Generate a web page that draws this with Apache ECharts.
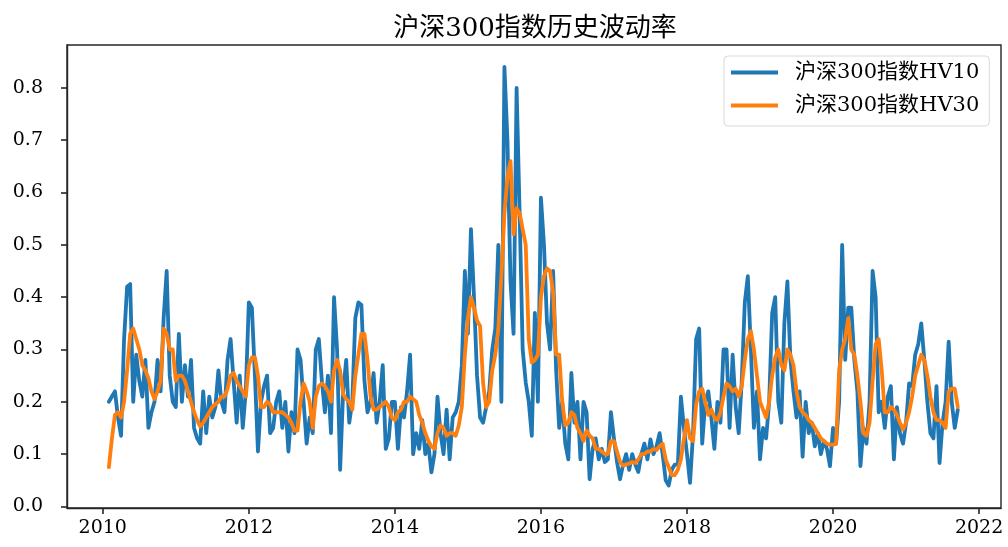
<!DOCTYPE html>
<html>
<head>
<meta charset="utf-8">
<script src="https://cdn.jsdelivr.net/npm/echarts@6/dist/echarts.min.js"></script>
<style>
html,body{margin:0;padding:0;background:#fff;}
#chart{width:1008px;height:547px;}
</style>
</head>
<body>
<div id="chart"></div>
<script>
// Time grid: half-month steps starting Feb 2010 (decimal years)
const START_YEAR = 2010 + 2 / 24;
const STEP = 1 / 24;

const seriesNames = ['沪深300指数HV10', '沪深300指数HV30'];
const xTickLabels = [2010, 2012, 2014, 2016, 2018, 2020, 2022];
const yTickLabels = [0.0, 0.1, 0.2, 0.3, 0.4, 0.5, 0.6, 0.7, 0.8];

const hv10 = [
  // 2010 (from Feb)
  0.2, 0.21, 0.22, 0.17, 0.135, 0.32, 0.42, 0.425, 0.2, 0.29, 0.24, 0.21, 0.28, 0.15, 0.18, 0.2, 0.28, 0.22, 0.36, 0.45, 0.25, 0.2,
  // 2011
  0.19, 0.33, 0.2, 0.27, 0.21, 0.28, 0.15, 0.13, 0.12, 0.22, 0.14, 0.21, 0.17, 0.19, 0.26, 0.2, 0.18, 0.28, 0.32, 0.24, 0.16, 0.25, 0.15, 0.22,
  // 2012
  0.39, 0.38, 0.25, 0.105, 0.2, 0.23, 0.25, 0.14, 0.15, 0.2, 0.22, 0.15, 0.2, 0.105, 0.18, 0.14, 0.3, 0.28, 0.2, 0.12, 0.17, 0.14, 0.3, 0.32,
  // 2013
  0.24, 0.18, 0.25, 0.14, 0.4, 0.3, 0.07, 0.22, 0.28, 0.16, 0.2, 0.36, 0.39, 0.385, 0.24, 0.18, 0.2, 0.255, 0.16, 0.2, 0.27, 0.11, 0.13, 0.2,
  // 2014
  0.2, 0.11, 0.19, 0.17, 0.22, 0.29, 0.1, 0.14, 0.11, 0.165, 0.1, 0.12, 0.065, 0.1, 0.21, 0.14, 0.1, 0.185, 0.09, 0.17, 0.18, 0.2, 0.27, 0.45,
  // 2015
  0.33, 0.53, 0.4, 0.25, 0.17, 0.16, 0.19, 0.22, 0.3, 0.34, 0.5, 0.2, 0.84, 0.7, 0.43, 0.33, 0.8, 0.56, 0.3, 0.237, 0.2, 0.135, 0.37, 0.2,
  // 2016
  0.59, 0.5, 0.35, 0.3, 0.45, 0.26, 0.15, 0.2, 0.12, 0.09, 0.255, 0.16, 0.2, 0.09, 0.2, 0.18, 0.052, 0.11, 0.13, 0.09, 0.11, 0.085, 0.09, 0.18,
  // 2017
  0.13, 0.085, 0.052, 0.08, 0.1, 0.07, 0.1, 0.08, 0.066, 0.1, 0.12, 0.09, 0.128, 0.1, 0.115, 0.14, 0.1, 0.05, 0.04, 0.07, 0.08, 0.08, 0.21, 0.15,
  // 2018
  0.1, 0.045, 0.14, 0.32, 0.34, 0.12, 0.2, 0.22, 0.17, 0.11, 0.2, 0.16, 0.3, 0.3, 0.15, 0.29, 0.19, 0.14, 0.24, 0.39, 0.44, 0.3, 0.15, 0.22,
  // 2019
  0.09, 0.15, 0.13, 0.2, 0.37, 0.4, 0.2, 0.16, 0.35, 0.43, 0.28, 0.22, 0.17, 0.22, 0.095, 0.2, 0.14, 0.16, 0.115, 0.14, 0.1, 0.125, 0.11, 0.077,
  // 2020
  0.15, 0.12, 0.2, 0.5, 0.28, 0.38, 0.38, 0.28, 0.22, 0.077, 0.15, 0.12, 0.2, 0.45, 0.4, 0.18, 0.2, 0.15, 0.21, 0.23, 0.09, 0.19, 0.14, 0.12,
  // 2021 (to Sep)
  0.16, 0.235, 0.23, 0.29, 0.31, 0.35, 0.28, 0.2, 0.14, 0.13, 0.23, 0.083, 0.16, 0.2, 0.315, 0.2, 0.15, 0.185
];

const hv30 = [
  // 2010 (from Feb)
  0.075, 0.13, 0.175, 0.18, 0.17, 0.2, 0.26, 0.33, 0.34, 0.32, 0.3, 0.27, 0.26, 0.245, 0.22, 0.205, 0.22, 0.24, 0.34, 0.33, 0.3, 0.3,
  // 2011
  0.24, 0.25, 0.25, 0.24, 0.22, 0.2, 0.18, 0.165, 0.153, 0.16, 0.17, 0.18, 0.19, 0.195, 0.2, 0.21, 0.21, 0.225, 0.25, 0.255, 0.24, 0.23, 0.22, 0.21,
  // 2012
  0.27, 0.285, 0.285, 0.25, 0.19, 0.19, 0.2, 0.195, 0.18, 0.18, 0.18, 0.18, 0.175, 0.17, 0.16, 0.145, 0.145, 0.2, 0.235, 0.22, 0.2, 0.15, 0.21, 0.23,
  // 2013
  0.235, 0.23, 0.22, 0.2, 0.26, 0.28, 0.26, 0.215, 0.205, 0.2, 0.185, 0.25, 0.29, 0.33, 0.33, 0.28, 0.21, 0.185, 0.185, 0.19, 0.195, 0.2, 0.19, 0.17,
  // 2014
  0.165, 0.18, 0.185, 0.2, 0.2, 0.21, 0.205, 0.2, 0.175, 0.16, 0.14, 0.125, 0.115, 0.11, 0.14, 0.155, 0.15, 0.135, 0.14, 0.14, 0.135, 0.155, 0.19, 0.29,
  // 2015
  0.36, 0.4, 0.38, 0.355, 0.345, 0.235, 0.19, 0.2, 0.26, 0.29, 0.34, 0.44, 0.56, 0.63, 0.66, 0.52, 0.57, 0.56, 0.53, 0.5, 0.32, 0.275, 0.28, 0.29,
  // 2016
  0.4, 0.44, 0.455, 0.45, 0.41, 0.29, 0.29, 0.2, 0.155, 0.16, 0.18, 0.175, 0.15, 0.14, 0.125, 0.145, 0.135, 0.13, 0.11, 0.11, 0.105, 0.1, 0.1, 0.125,
  // 2017
  0.125, 0.105, 0.085, 0.078, 0.08, 0.082, 0.085, 0.083, 0.09, 0.1, 0.1, 0.105, 0.105, 0.11, 0.108, 0.115, 0.12, 0.09, 0.075, 0.06, 0.06, 0.07, 0.09, 0.13,
  // 2018
  0.165, 0.13, 0.125, 0.195, 0.22, 0.225, 0.2, 0.175, 0.185, 0.17, 0.165, 0.18, 0.21, 0.235, 0.23, 0.22, 0.225, 0.21, 0.23, 0.28, 0.32, 0.335, 0.3, 0.25,
  // 2019
  0.2, 0.185, 0.17, 0.2, 0.25, 0.285, 0.3, 0.27, 0.26, 0.3, 0.29, 0.27, 0.22, 0.19, 0.18, 0.175, 0.165, 0.16, 0.15, 0.14, 0.13, 0.125, 0.12, 0.118,
  // 2020
  0.118, 0.12, 0.26, 0.3, 0.32, 0.36, 0.3, 0.29, 0.25, 0.2, 0.14, 0.135, 0.16, 0.24, 0.31, 0.32, 0.26, 0.18, 0.18, 0.19, 0.185, 0.175, 0.16, 0.147,
  // 2021 (to Sep)
  0.16, 0.18, 0.21, 0.25, 0.27, 0.29, 0.28, 0.25, 0.21, 0.18, 0.165, 0.165, 0.16, 0.15, 0.22, 0.225, 0.225, 0.19
];

const FONT = '"DejaVu Serif", "Noto Sans CJK SC", serif';
const toPairs = arr => arr.map((v, i) => [START_YEAR + i * STEP, v]);

const chart = echarts.init(document.getElementById('chart'), null, {renderer: 'canvas'});
const axisColor = '#262626';

chart.setOption({
  animation: false,
  backgroundColor: '#fff',
  title: {
    text: '沪深300指数历史波动率',
    left: 530,
    top: 11,
    textAlign: 'center',
    textStyle: {fontSize: 26, fontWeight: 'normal', color: '#000', fontFamily: FONT}
  },
  grid: {
    left: 67, right: 7, top: 45, bottom: 39,
    show: true, borderColor: axisColor, borderWidth: 1.4, backgroundColor: 'transparent'
  },
  xAxis: {
    type: 'value',
    min: 2009.51,
    max: 2022.30,
    splitLine: {show: false},
    axisLine: {show: true, onZero: false, lineStyle: {color: axisColor, width: 1.4}},
    axisTick: {show: true, length: 6, customValues: xTickLabels, lineStyle: {color: axisColor, width: 1.6}},
    axisLabel: {
      customValues: xTickLabels,
      formatter: v => String(Math.round(v)),
      margin: 11,
      fontSize: 19,
      color: '#000',
      fontFamily: FONT
    }
  },
  yAxis: {
    type: 'value',
    min: -0.003,
    max: 0.882,
    splitLine: {show: false},
    axisLine: {show: true, onZero: false, lineStyle: {color: axisColor, width: 1.4}},
    axisTick: {show: true, length: 6, customValues: yTickLabels, lineStyle: {color: axisColor, width: 1.6}},
    axisLabel: {
      customValues: yTickLabels,
      formatter: v => v.toFixed(1),
      margin: 24,
      fontSize: 19,
      color: '#000',
      fontFamily: FONT
    }
  },
  legend: {
    data: seriesNames,
    orient: 'vertical',
    left: 724,
    top: 56,
    backgroundColor: '#fff',
    borderColor: '#d9d9d9',
    borderWidth: 1,
    borderRadius: 4,
    padding: [6, 10, 10, 7],
    itemWidth: 47,
    itemHeight: 4,
    itemGap: 12,
    icon: 'rect',
    textStyle: {fontSize: 21, color: '#000', fontFamily: FONT, padding: [0, 0, 0, 12]}
  },
  series: [
    {
      name: seriesNames[0],
      type: 'line',
      data: toPairs(hv10),
      symbol: 'none',
      showSymbol: false,
      color: '#1f77b4',
      lineStyle: {width: 3.8, color: '#1f77b4', join: 'round', cap: 'round'},
      z: 2
    },
    {
      name: seriesNames[1],
      type: 'line',
      data: toPairs(hv30),
      symbol: 'none',
      showSymbol: false,
      color: '#ff7f0e',
      lineStyle: {width: 3.8, color: '#ff7f0e', join: 'round', cap: 'round'},
      z: 3
    }
  ]
});
</script>
</body>
</html>
